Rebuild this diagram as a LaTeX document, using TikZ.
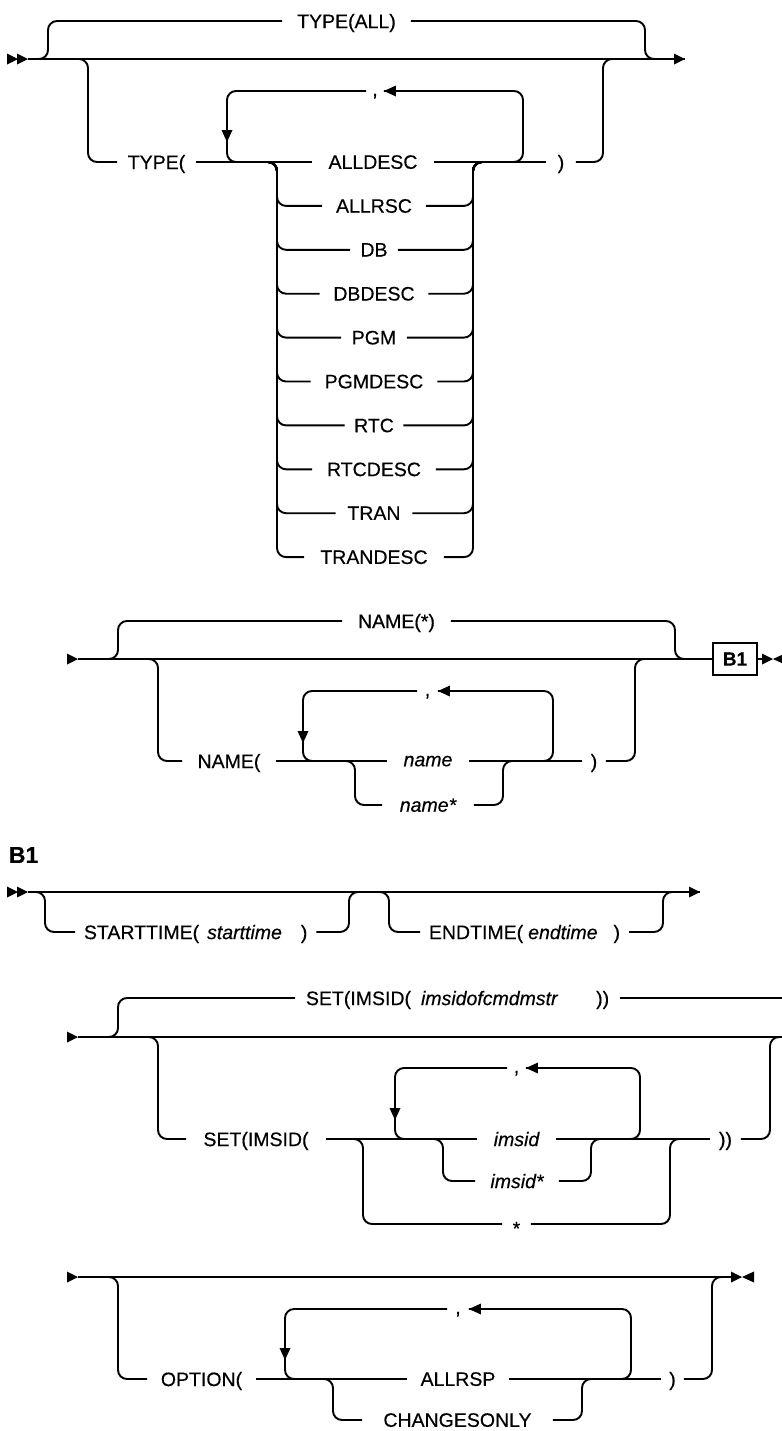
\documentclass[tikz,border=0pt]{standalone}
\usepackage{fontspec}
\setmainfont{Liberation Sans}[FakeBold=0.4]
\newcommand\rtri[1]{\fill (#1) -- ++(-11,-5.5) -- ++(0,11) -- cycle;}
\newcommand\ltri[1]{\fill (#1) -- ++(12,-5.5) -- ++(0,11) -- cycle;}
\newcommand\dtri[1]{\fill (#1) -- ++(-5.5,-12) -- ++(11,0) -- cycle;}
\begin{document}
\begin{tikzpicture}[x=0.5pt,y=-0.5pt, line width=0.95pt,
  rc/.style={rounded corners=4.5pt},
  lbl/.style={inner sep=0pt, text depth=0pt, font=\fontsize{9.75pt}{12pt}\selectfont},
  itl/.style={lbl, font=\fontsize{9.75pt}{12pt}\selectfont\itshape},
  gw/.style={minimum width=#1*0.5pt},
  cma/.style={lbl, text height=5pt},
]
\useasboundingbox (0,0) rectangle (782,1431);

% ---------------- Section 1: TYPE ----------------
\coordinate (s1) at (28,59);
\coordinate (e1) at (685,59);
\draw (s1) -- (e1);
\rtri{18,59} \rtri{28,59} \rtri{685,59}
\node[lbl,gw=127] (tall) at (346.5,21) {TYPE(ALL)};
\draw[rc] (38,59) -| (48,21) -- (tall.west);
\draw[rc] (tall.east) -| (645,59) -- (655,59);
\node[lbl,gw=77] (ltype) at (156.5,162) {TYPE(};
\node[lbl,gw=120] (r0) at (373,162) {ALLDESC};
\node[lbl,gw=28] (rp1) at (561,162) {)};
\node[cma,gw=16] (cm1) at (375,91) {,};
\draw[rc] (78,59) -| (88,162) -- (ltype.west);
\draw (ltype.east) -- (r0.west);
\draw (r0.east) -- (rp1.west);
\draw[rc] (rp1.east) -| (603,59) -- (613,59);
\draw[rc] (508,162) -| (523,91) -- (cm1.east);
\draw[rc] (cm1.west) -| (227,162) -- (240,162);
\ltri{cm1.east} \dtri{227,142}
\foreach \t/\w [count=\k] in {ALLRSC/102, DB/46, DBDESC/107, PGM/64, PGMDESC/125, RTC/57, RTCDESC/122, TRAN/75, TRANDESC/138} {
  \node[lbl,gw=\w] (r\k) at (374,162+43.9*\k) {\t};
  \draw[rc] (267,162) -| (277,162+43.9*\k) -- (r\k.west);
  \draw[rc] (r\k.east) -| (473,162) -- (483,162);
}

% ---------------- Section 2: NAME ----------------
\coordinate (s2) at (78,659);
\node[draw, line width=0.8pt, inner sep=0pt, minimum width=22pt, minimum height=16pt,
  font=\bfseries\fontsize{9.5pt}{11pt}\selectfont] (b1) at (735,659) {B1};
\draw (s2) -- (b1.west);
\rtri{78,659}
\coordinate (e2) at (762,659);
\draw (b1.east) -- (e2);
\rtri{773,659} \ltri{773,659}
\node[lbl,gw=107] (nstar) at (396.5,621) {NAME(*)};
\draw[rc] (108,659) -| (118,621) -- (nstar.west);
\draw[rc] (nstar.east) -| (675,659) -- (685,659);
\node[lbl,gw=92] (lname) at (229,761) {NAME(};
\node[itl,gw=80] (nm) at (428,761) {name};
\node[lbl,gw=22] (rp2) at (594,761) {)};
\node[itl,gw=90] (nms) at (428,805) {name*};
\node[cma,gw=19] (cm2) at (427.5,691) {,};
\draw[rc] (148,659) -| (158,761) -- (lname.west);
\draw (lname.east) -- (nm.west);
\draw (nm.east) -- (rp2.west);
\draw[rc] (rp2.east) -| (635,659) -- (645,659);
\draw[rc] (540,761) -| (553,691) -- (cm2.east);
\draw[rc] (cm2.west) -| (303,761) -- (316,761);
\ltri{cm2.east} \dtri{303,743}
\draw[rc] (345,761) -| (355,805) -- (nms.west);
\draw[rc] (nms.east) -| (503,761) -- (513,761);

% ---------------- B1 heading ----------------
\node[anchor=west, inner sep=0pt, font=\bfseries\fontsize{11.5pt}{13pt}\selectfont] (hb1) at (8,855) {B1};

% ---------------- Section 3: B1 ----------------
\coordinate (s3) at (28,892);
\coordinate (e3) at (700,892);
\draw (s3) -- (e3);
\rtri{18,892} \rtri{28,892} \rtri{700,892}
\node[lbl, anchor=west, inner xsep=4pt] (st) at (75,932) {STARTTIME(\hspace{4pt}\textit{starttime}\hspace{9.5pt})};
\draw[rc] (35,892) -| (45,932) -- (st.west);
\draw[rc] (st.east) -| (349,892) -- (359,892);
\node[lbl, anchor=west, inner xsep=4pt] (et) at (420,932) {ENDTIME(\hspace{2.5pt}\textit{endtime}\hspace{8pt})};
\draw[rc] (379,892) -| (389,932) -- (et.west);
\draw[rc] (et.east) -| (663,892) -- (673,892);

% ---------------- Section 4: SET ----------------
\coordinate (s4) at (78,1037);
\coordinate (e4) at (782,1037);
\draw (s4) -- (e4);
\rtri{78,1037}
\node[lbl, anchor=west, inner xsep=5pt] (settop) at (295,998) {SET(IMSID(\hspace{5pt}\textit{imsidofcmdmstr}\hspace{19pt}))};
\coordinate (e4t) at (782,998);
\draw[rc] (108,1037) -| (118,998) -- (settop.west);
\draw (settop.east) -- (e4t);
\node[lbl,gw=138] (setl) at (256,1139) {SET(IMSID(};
\node[itl,gw=77] (ims) at (516.5,1139) {imsid};
\node[lbl,gw=29] (rp4) at (725.5,1139) {))};
\node[itl,gw=82] (imss) at (517,1181) {imsid*};
\node[lbl,gw=27,yshift=-2.25pt] (star) at (516.5,1224) {*};
\node[cma,gw=17] (cm4) at (516.5,1068) {,};
\draw[rc] (148,1037) -| (158,1139) -- (setl.west);
\draw (setl.east) -- (ims.west);
\draw (ims.east) -- (rp4.west);
\draw[rc] (rp4.east) -| (770,1037) -- (780,1037);
\draw[rc] (630,1139) -| (640,1068) -- (cm4.east);
\draw[rc] (cm4.west) -| (395,1139) -- (407,1139);
\ltri{cm4.east} \dtri{395,1120}
\draw[rc] (433,1139) -| (443,1181) -- (imss.west);
\draw[rc] (imss.east) -| (591,1139) -- (601,1139);
\draw[rc] (353,1139) -| (363,1224) -- (star.west |- 363,1224);
\draw[rc] (star.east |- 670,1224) -| (670,1139) -- (680,1139);

% ---------------- Section 5: OPTION ----------------
\coordinate (s5) at (78,1277);
\coordinate (e5) at (731,1277);
\draw (s5) -- (e5);
\rtri{78,1277} \rtri{742,1277} \ltri{742,1277}
\node[lbl,gw=107] (opt) at (201.5,1379) {OPTION(};
\node[lbl,gw=100] (arsp) at (458,1379) {ALLRSP};
\node[lbl,gw=21] (rp5) at (672.5,1379) {)};
\node[lbl,gw=189] (chg) at (457.5,1420) {CHANGESONLY};
\node[cma,gw=20] (cm5) at (458,1309) {,};
\draw[rc] (108,1277) -| (118,1379) -- (opt.west);
\draw (opt.east) -- (arsp.west);
\draw (arsp.east) -- (rp5.west);
\draw[rc] (rp5.east) -| (712,1277) -- (722,1277);
\draw[rc] (621,1379) -| (631,1309) -- (cm5.east);
\draw[rc] (cm5.west) -| (285,1379) -- (297,1379);
\ltri{cm5.east} \dtri{285,1360}
\draw[rc] (323,1379) -| (333,1420) -- (chg.west);
\draw[rc] (chg.east) -| (582,1379) -- (592,1379);
\end{tikzpicture}
\end{document}
